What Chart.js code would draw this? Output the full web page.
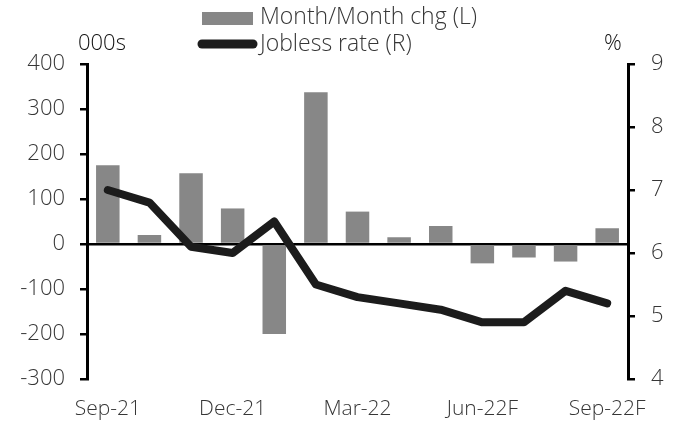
<!DOCTYPE html>
<html>
<head>
<meta charset="utf-8">
<script src="https://cdn.jsdelivr.net/npm/chart.js@4"></script>
<style>
  body { margin: 0; background: #fff; }
  #wrap { width: 678px; height: 424px; }
</style>
</head>
<body>
<div id="wrap"><canvas id="jobsChart"></canvas></div>
<script>
const months = ['Sep-21', 'Oct-21', 'Nov-21', 'Dec-21', 'Jan-22', 'Feb-22', 'Mar-22',
                'Apr-22', 'May-22', 'Jun-22F', 'Jul-22F', 'Aug-22F', 'Sep-22F'];
const monthChg = [175, 20, 157, 79, -200, 337, 72, 15, 40, -43, -30, -39, 35];
const joblessRate = [7.0, 6.8, 6.1, 6.0, 6.5, 5.5, 5.3, 5.2, 5.1, 4.9, 4.9, 5.4, 5.2];
const shownTicks = ['Sep-21', 'Dec-21', 'Mar-22', 'Jun-22F', 'Sep-22F'];

const FONT = '"Open Sans", sans-serif';
const TXT = '#363636';

// legend + unit labels drawn straight on the canvas
const extras = {
    id: 'extras',
    afterDraw(chart) {
        const c = chart.ctx;
        c.save();
        c.fillStyle = '#878787';
        c.fillRect(202, 12, 51, 13);
        c.strokeStyle = '#1c1c1c';
        c.lineWidth = 9;
        c.lineCap = 'round';
        c.beginPath();
        c.moveTo(202, 44);
        c.lineTo(253, 44);
        c.stroke();
        c.font = '300 23px ' + FONT;
        c.fillStyle = TXT;
        c.textBaseline = 'middle';
        c.textAlign = 'left';
        c.fillText('Month/Month chg (L)', 260, 17);
        c.fillText('Jobless rate (R)', 260, 44);
        c.font = '300 22px ' + FONT;
        c.fillStyle = '#111';
        c.fillText('000s', 78, 44);
        c.fillText('%', 604, 44);
        c.restore();
    }
};

new Chart(document.getElementById('jobsChart'), {
    data: {
        labels: months,
        datasets: [{
            type: 'line',
            data: joblessRate,
            yAxisID: 'yR',
            borderColor: '#1c1c1c',
            borderWidth: 8,
            borderCapStyle: 'round',
            borderJoinStyle: 'round',
            pointRadius: 0,
            tension: 0,
            order: 0
        }, {
            type: 'bar',
            data: monthChg,
            yAxisID: 'yL',
            backgroundColor: '#878787',
            categoryPercentage: 1,
            barPercentage: 0.565,
            order: 1
        }]
    },
    plugins: [extras],
    options: {
        responsive: true,
        maintainAspectRatio: false,
        animation: false,
        layout: { padding: { top: 64, left: 0, right: 0, bottom: 0 } },
        plugins: { legend: { display: false }, tooltip: { enabled: false } },
        scales: {
            x: {
                grid: { display: false },
                border: { display: false },
                afterFit: s => { s.height = 45; },
                ticks: {
                    autoSkip: false,
                    maxRotation: 0,
                    padding: 9,
                    color: TXT,
                    font: { family: FONT, size: 21, weight: 300 },
                    callback: (v, i) => shownTicks.includes(months[i]) ? months[i] : ''
                }
            },
            yL: {
                position: 'left',
                min: -300, max: 400,
                afterFit: s => { s.width = 87; },
                border: { color: '#000', width: 3 },
                grid: {
                    color: c => c.tick.value === 0 ? '#000' : 'transparent',
                    tickColor: '#000',
                    lineWidth: 2.5,
                    tickLength: 7
                },
                ticks: { stepSize: 100, padding: 15, color: TXT, font: { family: FONT, size: 22, weight: 300 } }
            },
            yR: {
                position: 'right',
                min: 4, max: 9,
                afterFit: s => { s.width = 50; },
                border: { color: '#000', width: 3 },
                grid: { drawOnChartArea: false, tickColor: '#000', lineWidth: 2.5, tickLength: 7 },
                ticks: { stepSize: 1, padding: 16, color: TXT, font: { family: FONT, size: 22, weight: 300 } }
            }
        }
    }
});
</script>
</body>
</html>
